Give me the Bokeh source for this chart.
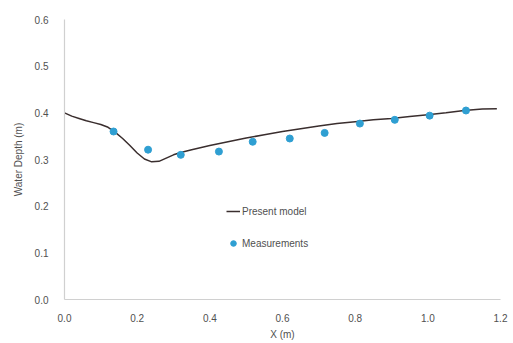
from bokeh.plotting import figure
from bokeh.models import Range1d, FixedTicker, NumeralTickFormatter, Legend, LegendItem
from bokeh.embed import file_html
from bokeh.resources import INLINE

# Present model: computed free-surface profile
model_x = [0.00, 0.02, 0.04, 0.06, 0.08, 0.10, 0.12, 0.14, 0.16, 0.18, 0.20, 0.22, 0.24,
           0.26, 0.28, 0.30, 0.32, 0.35, 0.40, 0.45, 0.50, 0.55, 0.60, 0.65, 0.70, 0.75,
           0.80, 0.85, 0.90, 0.95, 1.00, 1.05, 1.10, 1.15, 1.19]
model_y = [0.400, 0.393, 0.388, 0.383, 0.379, 0.375, 0.369, 0.358, 0.345, 0.330, 0.314, 0.301, 0.295,
           0.296, 0.303, 0.310, 0.315, 0.321, 0.330, 0.338, 0.346, 0.353, 0.360, 0.366, 0.372, 0.377,
           0.381, 0.385, 0.388, 0.392, 0.396, 0.400, 0.405, 0.408, 0.409]

# Measured water depths
meas_x = [0.135, 0.23, 0.32, 0.425, 0.518, 0.62, 0.716, 0.813, 0.909, 1.005, 1.105]
meas_y = [0.360, 0.321, 0.310, 0.317, 0.338, 0.345, 0.357, 0.377, 0.385, 0.394, 0.405]

x_ticks = [0.0, 0.2, 0.4, 0.6, 0.8, 1.0, 1.2]
y_ticks = [0.0, 0.1, 0.2, 0.3, 0.4, 0.5, 0.6]

FONT = "Liberation Sans"
TEXT = "#505050"
AXIS = "#d0d0d0"

p = figure(width=513, height=343, output_backend="svg", toolbar_location=None,
           x_range=Range1d(0, 1.2), y_range=Range1d(0, 0.6),
           min_border_left=64, min_border_right=13, min_border_top=19, min_border_bottom=44)
p.outline_line_color = None
p.grid.visible = False
p.background_fill_color = "white"
p.border_fill_color = "white"

for ax in (p.xaxis[0], p.yaxis[0]):
    ax.axis_line_color = AXIS
    ax.axis_line_width = 1.2
    ax.major_tick_line_color = None
    ax.minor_tick_line_color = None
    ax.major_label_text_font = FONT
    ax.major_label_text_font_size = "10px"
    ax.major_label_text_color = TEXT
    ax.axis_label_text_font = FONT
    ax.axis_label_text_font_size = "10px"
    ax.axis_label_text_font_style = "normal"
    ax.axis_label_text_color = TEXT
    ax.formatter = NumeralTickFormatter(format="0.0")

p.xaxis.ticker = FixedTicker(ticks=x_ticks)
p.yaxis.ticker = FixedTicker(ticks=y_ticks)
p.xaxis.axis_label = "X (m)"
p.yaxis.axis_label = "Water Depth (m)"
p.xaxis.major_label_standoff = 8
p.yaxis.major_label_standoff = 10
p.xaxis.axis_label_standoff = 4
p.yaxis.axis_label_standoff = 8

line = p.line(model_x, model_y, line_color="#3a2e2e", line_width=1.5, line_join="round")
pts = p.scatter(meas_x, meas_y, marker="circle", size=7,
                fill_color="#2f9fd2", line_color="#2f9fd2")

legend = Legend(items=[LegendItem(label="Present model", renderers=[line]),
                       LegendItem(label="Measurements", renderers=[pts])],
                location=(162, 46), padding=0, margin=0, spacing=12,
                glyph_width=14, glyph_height=20, label_height=20, label_standoff=2,
                label_text_font=FONT, label_text_font_size="10px", label_text_color=TEXT,
                border_line_color=None, background_fill_alpha=0)
p.add_layout(legend)

open("out.html", "w").write(file_html(p, INLINE))
